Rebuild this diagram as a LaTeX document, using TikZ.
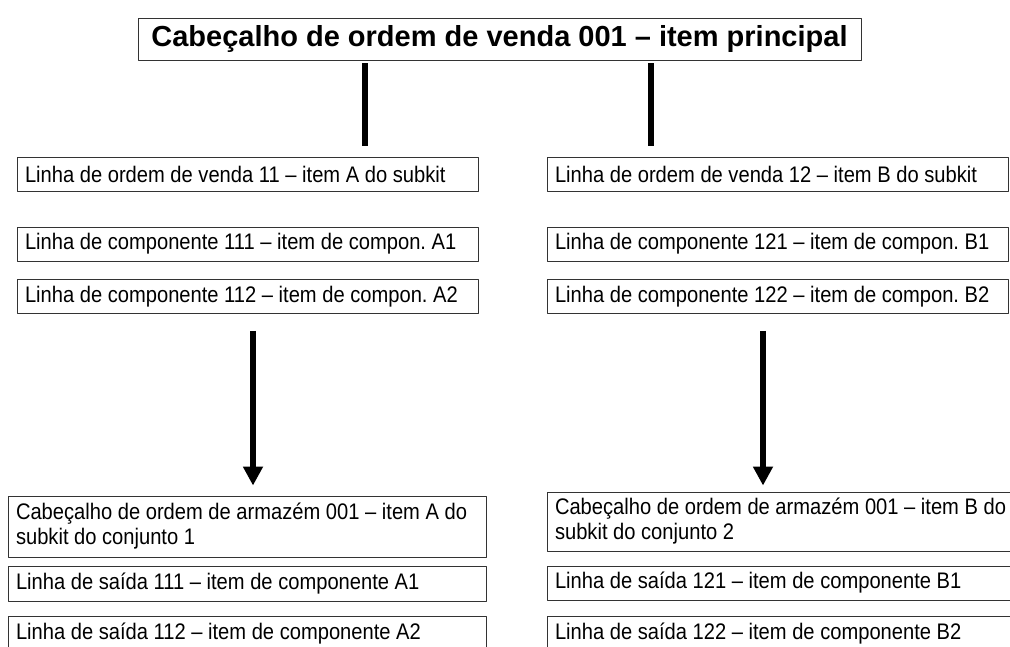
\documentclass[tikz,border=0pt]{standalone}
\usepackage{fontspec}
\setmainfont{Liberation Sans}
\newfontfamily\narrowfont[FakeStretch=0.895]{Liberation Sans}
\usepackage{tikz}
\usetikzlibrary{calc,positioning,arrows.meta}
\frenchspacing

\begin{document}
\begin{tikzpicture}[>=latex,line join=bevel,
  box/.style={draw=black!80,line width=0.9bp,inner xsep=8bp,inner ysep=0bp,
    text width=445bp,minimum height=34bp,align=flush left,
    font=\narrowfont\fontsize{22.5bp}{25bp}\selectfont},
  wbox/.style={box,text width=462bp},
  bar/.style={line width=5.5bp},
  arr/.style={line width=5.5bp,-{Triangle[width=19bp,length=19bp]}}]
\useasboundingbox (0,0) rectangle (1010bp,647bp);
\clip (0,0) rectangle (1010bp,647bp);
%%
\node (0) at (499.5bp,608.0bp) [draw=black!80,line width=0.9bp,minimum width=723bp,minimum height=42bp,font=\fontsize{29bp}{34bp}\selectfont\bfseries] {Cabeçalho de ordem de venda 001 – item principal};
  \node (1) at (247.5bp,472.5bp) [box] {Linha de ordem de venda 11 – item A do subkit};
  \node (2) at (247.5bp,403.0bp) [box] {Linha de componente 111 – item de compon. A1};
  \node (3) at (247.5bp,350.5bp) [box] {Linha de componente 112 – item de compon. A2};
  \node (4) at (777.5bp,472.5bp) [box] {Linha de ordem de venda 12 – item B do subkit};
  \node (5) at (777.5bp,403.0bp) [box] {Linha de componente 121 – item de compon. B1};
  \node (6) at (777.5bp,350.5bp) [box] {Linha de componente 122 – item de compon. B2};
  \node (7) at (247.0bp,120.5bp) [wbox,minimum height=61bp] {Cabeçalho de ordem de armazém 001 – item A do\\subkit do conjunto 1};
  \node (8) at (247.0bp,63.5bp) [wbox,minimum height=35bp] {Linha de saída 111 – item de componente A1};
  \node (9) at (247.0bp,13.5bp) [wbox,minimum height=35bp] {Linha de saída 112 – item de componente A2};
  \node (10) at (786.0bp,125.5bp) [wbox,minimum height=59bp] {Cabeçalho de ordem de armazém 001 – item B do\\subkit do conjunto 2};
  \node (11) at (786.0bp,64.0bp) [wbox] {Linha de saída 121 – item de componente B1};
  \node (12) at (786.0bp,13.5bp) [wbox,minimum height=35bp] {Linha de saída 122 – item de componente B2};
  \draw [bar,shorten <=3bp,shorten >=11bp] (0.south -| 365bp,0) -- (1.north -| 365bp,0);
  \draw [bar,shorten <=3bp,shorten >=11bp] (0.south -| 651bp,0) -- (4.north -| 651bp,0);
  \draw [arr,shorten <=17bp,shorten >=10bp] (3.south -| 253bp,0) -- (7.north -| 253bp,0);
  \draw [arr,shorten <=17bp,shorten >=6bp] (6.south -| 763bp,0) -- (10.north -| 763bp,0);
%
\end{tikzpicture}
\end{document}
